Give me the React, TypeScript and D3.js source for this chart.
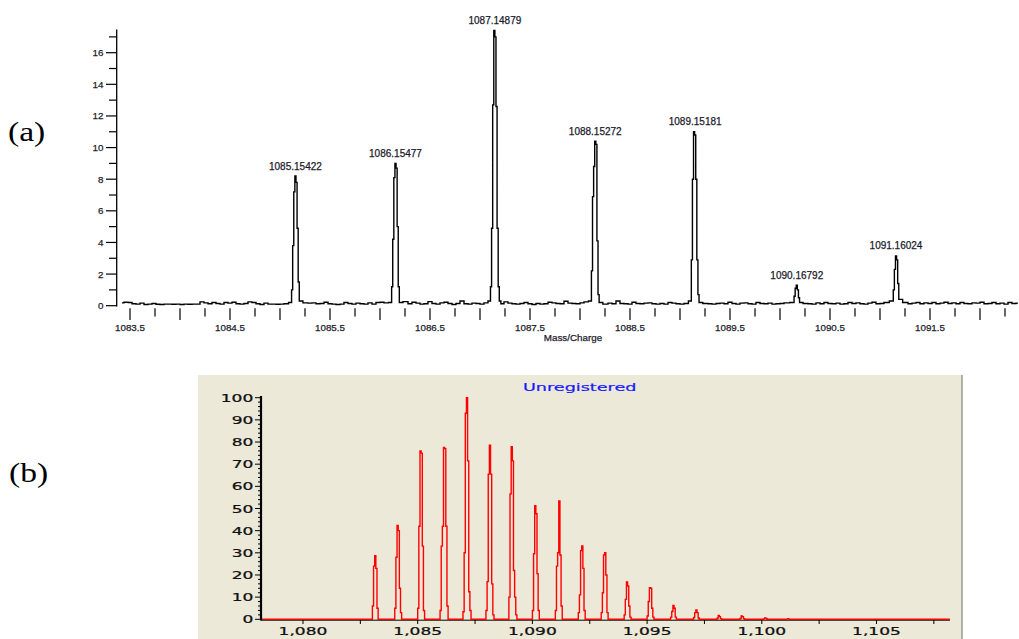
import * as d3 from "d3";

// ---------- (a) measured spectrum ----------
const peakMz = [1085.15422, 1086.15477, 1087.14879, 1088.15272, 1089.15181, 1090.16792, 1091.16024];
// stepped intensity profile of every peak, read across the peak (left -> right)
const peakProfiles = [
  [0.2, 1.0, 3.8, 7.2, 8.2, 7.8, 4.9, 1.5, 0.3],
  [0.2, 1.2, 4.2, 8.1, 9.0, 8.7, 5.0, 1.2, 0.2],
  [0.3, 1.2, 4.9, 12.7, 17.4, 17.0, 12.6, 4.9, 1.2, 0.3],
  [0.3, 2.2, 6.9, 8.8, 10.4, 10.2, 4.1, 0.7, 0.2],
  [0.3, 2.9, 8.0, 11.0, 10.8, 8.0, 2.9, 0.7, 0.2],
  [0.2, 0.6, 1.1, 1.3, 1.0, 0.5, 0.2],
  [0.3, 1.0, 2.3, 3.15, 2.9, 1.4, 0.4],
];
const noiseStart = 1083.42;
const noiseStep = 0.04;
const baselineNoise = [
  0.18, 0.22, 0.2, 0.12, 0.1, 0.16, 0.08, 0.1, 0.14, 0.09, 0.08, 0.1, 0.1, 0.09, 0.1,
  0.08, 0.1, 0.09, 0.1, 0.1, 0.24, 0.18, 0.12, 0.2, 0.14, 0.1, 0.2, 0.16, 0.22, 0.12,
  0.1, 0.14, 0.24, 0.2, 0.12, 0.08, 0.16, 0.1, 0.1, 0.09, 0.1, 0.12, 0.06, 0.14, 0.1,
  0.2, 0.18, 0.16, 0.18, 0.12, 0.14, 0.22, 0.12, 0.1, 0.08, 0.1, 0.2, 0.14, 0.1, 0.16,
  0.12, 0.1, 0.18, 0.1, 0.2, 0.22, 0.18, 0.1, 0.14, 0.08, 0.2, 0.26, 0.12, 0.22, 0.16,
  0.1, 0.12, 0.26, 0.14, 0.1, 0.18, 0.22, 0.14, 0.08, 0.14, 0.3, 0.12, 0.1, 0.16, 0.14,
  0.1, 0.18, 0.2, 0.1, 0.14, 0.12, 0.24, 0.16, 0.12, 0.1, 0.14, 0.2, 0.12, 0.08, 0.14,
  0.1, 0.12, 0.22, 0.18, 0.14, 0.12, 0.28, 0.16, 0.14, 0.12, 0.18, 0.24, 0.14, 0.1, 0.12,
  0.14, 0.1, 0.16, 0.12, 0.3, 0.14, 0.12, 0.1, 0.22, 0.14, 0.12, 0.16, 0.18, 0.12, 0.1,
  0.14, 0.1, 0.2, 0.16, 0.12, 0.1, 0.14, 0.2, 0.12, 0.1, 0.18, 0.14, 0.12, 0.1, 0.14,
  0.16, 0.12, 0.22, 0.14, 0.1, 0.16, 0.18, 0.12, 0.1, 0.2, 0.14, 0.12, 0.16, 0.1, 0.12,
  0.14, 0.18, 0.12, 0.1, 0.16, 0.26, 0.14, 0.12, 0.1, 0.18, 0.12, 0.2, 0.14, 0.12, 0.16,
  0.1, 0.12, 0.2, 0.14, 0.18, 0.12, 0.1, 0.16, 0.22, 0.12, 0.14, 0.2, 0.12, 0.1, 0.18,
  0.14, 0.2, 0.12, 0.16, 0.2, 0.12, 0.18, 0.14, 0.2, 0.12, 0.16, 0.22, 0.14, 0.18, 0.12,
  0.2, 0.14, 0.12, 0.18, 0.16, 0.22, 0.12, 0.14, 0.2, 0.12, 0.16, 0.1, 0.2, 0.14, 0.16,
];
const topYTickLabels = [0, 2, 4, 6, 8, 10, 12, 14, 16];
const topXTickLabels = [1083.5, 1084.5, 1085.5, 1086.5, 1087.5, 1088.5, 1089.5, 1090.5, 1091.5];

// ---------- (b) simulated isotope pattern ----------
const simMz = [
  1083.15, 1084.15, 1085.15, 1086.15, 1087.15, 1088.15, 1089.15, 1090.15, 1091.15, 1092.15,
  1093.15, 1094.15, 1095.15, 1096.15, 1097.15, 1098.15, 1099.15, 1100.15, 1101.15,
];
const simProfiles = [
  [6, 24, 28.7, 23, 5],
  [5, 28, 42.3, 40, 14, 3],
  [5, 42, 76, 75, 33, 4],
  [4, 33, 42, 77.6, 77, 42, 6],
  [3.4, 30, 93, 100, 71.5, 12.4, 4],
  [4, 17, 65.5, 78.6, 65.5, 16, 2],
  [10, 56.6, 77.9, 71.5, 22, 10, 2],
  [4, 29.6, 51.3, 47.6, 20.6, 4],
  [4, 24, 30, 53.4, 29, 6],
  [3, 11, 31, 33.1, 23, 4],
  [3, 12, 29, 30.1, 20, 3],
  [2, 9, 16.8, 15, 6, 1],
  [1.5, 8, 14.3, 14, 5, 1],
  [1, 3.5, 6.3, 5, 1],
  [0.8, 3, 4.2, 3, 0.6],
  [0.5, 1.7, 1.2, 0.3],
  [0.4, 1.5, 1.2, 0.3],
  [0.2, 0.6, 0.4],
  [0.1, 0.3, 0.1],
];
const simYTickLabels = [0, 10, 20, 30, 40, 50, 60, 70, 80, 90, 100];
const simXTickLabels = [1080, 1085, 1090, 1095, 1100, 1105];

const axisFont = "'Liberation Sans', Arial, sans-serif";
const simFont = "'DejaVu Sans', Verdana, sans-serif";

export default function App() {
  // ----- scales for (a)
  const xa = d3.scaleLinear().domain([1083.5, 1092.5]).range([130, 1030]);
  const ya = d3.scaleLinear().domain([0, 16]).range([305.7, 52.7]);

  const topPoints: [number, number][] = [];
  baselineNoise.forEach((v, i) => {
    const mz = noiseStart + i * noiseStep;
    if (peakMz.some((p) => Math.abs(p - mz) < 0.07)) return;
    topPoints.push([mz, v]);
  });
  peakMz.forEach((p, k) => {
    const prof = peakProfiles[k];
    prof.forEach((v, i) => topPoints.push([p + (i - (prof.length - 1) / 2) * 0.011, v]));
  });
  topPoints.sort((a, b) => a[0] - b[0]);
  const topLine = d3
    .line<[number, number]>()
    .x((d) => xa(d[0]))
    .y((d) => ya(d[1]))
    .curve(d3.curveStep);

  const topXTicks = d3.range(1083.5, 1092.3, 0.25);
  const topYTicks = d3.range(0, 18, 1);

  // ----- scales for (b)
  const xb = d3.scaleLinear().domain([1080, 1105]).range([303, 876.5]);
  const yb = d3.scaleLinear().domain([0, 100]).range([619.3, 397.7]);
  const xbMin = 1078.17;
  const xbMax = 1108.2;

  const simPoints: [number, number][] = [[xbMin, 0]];
  simMz.forEach((m, k) => {
    const prof = simProfiles[k];
    const half = (prof.length - 1) / 2;
    simPoints.push([m - (half + 1) * 0.05, 0]);
    prof.forEach((v, i) => simPoints.push([m + (i - half) * 0.05, v]));
    simPoints.push([m + (half + 1) * 0.05, 0]);
  });
  simPoints.push([xbMax, 0]);
  const simLine = d3
    .line<[number, number]>()
    .x((d) => xb(d[0]))
    .y((d) => yb(d[1]))
    .curve(d3.curveStep);

  const simYTicks = d3.range(0, 101, 2);
  const simXTicks = d3.range(1080, 1108, 2.5);
  const fmtComma = d3.format(",");
  const fmtPeak = d3.format(".5f");
  const sx = 1.55;

  return (
    <svg
      width={1019}
      height={639}
      style={{ position: "absolute", left: 0, top: 0, background: "#fff" }}
    >
      {/* panel labels */}
      <text
        transform="translate(8,141) scale(1.2,1)"
        fontFamily="'Liberation Serif', 'Times New Roman', serif"
        fontSize={28}
      >
        (a)
      </text>
      <text
        transform="translate(9,482) scale(1.2,1)"
        fontFamily="'Liberation Serif', 'Times New Roman', serif"
        fontSize={28}
      >
        (b)
      </text>

      {/* ===== (a) ===== */}
      <g fontFamily={axisFont} fill="#1b1b2b" stroke="#1b1b2b" strokeWidth={0.25}>
        {topYTickLabels.map((t) => (
          <text key={"yl" + t} x={103.5} y={ya(t) + 3.5} textAnchor="end" fontSize={9.8}>
            {t}
          </text>
        ))}
        {topXTickLabels.map((t) => (
          <text key={"xl" + t} x={xa(t)} y={330.5} textAnchor="middle" fontSize={9.8}>
            {t.toFixed(1)}
          </text>
        ))}
        <text x={573} y={341} textAnchor="middle" fontSize={9.8}>
          Mass/Charge
        </text>
        {peakMz.map((p, k) => (
          <text
            key={"pl" + k}
            x={xa(p)}
            y={ya(d3.max(peakProfiles[k]) as number) - 6.5}
            textAnchor="middle"
            fontSize={10}
          >
            {fmtPeak(p)}
          </text>
        ))}
      </g>
      <g>
        <line x1={116.7} x2={116.7} y1={29.5} y2={306.5} stroke="#000" strokeWidth={1.3} />
        {topYTicks.map((t) => (
          <line
            key={"yt" + t}
            x1={t % 2 === 0 ? 106 : 109}
            x2={116.7}
            y1={ya(t)}
            y2={ya(t)}
            stroke="#000"
            strokeWidth={1.2}
          />
        ))}
        {topXTicks.map((t) => {
          const long = Math.abs(t * 2 - Math.round(t * 2)) < 1e-6;
          return (
            <line
              key={"xt" + t}
              x1={xa(t)}
              x2={xa(t)}
              y1={308.3}
              y2={long ? 320 : 316.5}
              stroke="#000"
              strokeWidth={1.2}
            />
          );
        })}
        <path d={topLine(topPoints) || ""} fill="none" stroke="#000" strokeWidth={1.4} />
      </g>

      {/* ===== (b) ===== */}
      <rect x={198} y={375} width={764} height={264} fill="#ECE9D8" />
      <line x1={962} x2={962} y1={375} y2={639} stroke="#9c9a90" strokeWidth={1.5} />
      <text
        transform={`translate(523,390.7) scale(1.6,1)`}
        fontFamily={simFont}
        fontSize={11}
        fill="#1a1aff"
        stroke="#1a1aff"
        strokeWidth={0.2}
      >
        Unregistered
      </text>
      <g fontFamily={simFont} fontSize={11} fill="#111" stroke="#111" strokeWidth={0.25}>
        {simYTickLabels.map((t) => (
          <text
            key={"syl" + t}
            transform={`translate(253.3,${yb(t) + 4}) scale(${sx},1)`}
            textAnchor="end"
          >
            {t}
          </text>
        ))}
        {simXTickLabels.map((t) => (
          <text
            key={"sxl" + t}
            transform={`translate(${xb(t)},635) scale(${sx},1)`}
            textAnchor="middle"
          >
            {fmtComma(t)}
          </text>
        ))}
      </g>
      <g>
        {simYTicks.map((t) => (
          <line
            key={"syt" + t}
            x1={t % 10 === 0 ? 255 : 258}
            x2={261}
            y1={yb(t)}
            y2={yb(t)}
            stroke="#000"
            strokeWidth={1}
          />
        ))}
        {simXTicks.map((t) => (
          <line
            key={"sxt" + t}
            x1={xb(t)}
            x2={xb(t)}
            y1={620}
            y2={624}
            stroke="#000"
            strokeWidth={1}
          />
        ))}
        <line x1={261} x2={xb(xbMax)} y1={620.2} y2={620.2} stroke="#000" strokeWidth={1} />
        <path d={simLine(simPoints) || ""} fill="none" stroke="#ff0000" strokeWidth={1.4} />
        <line x1={261} x2={261} y1={396} y2={620.5} stroke="#000" strokeWidth={2.2} />
      </g>
    </svg>
  );
}
